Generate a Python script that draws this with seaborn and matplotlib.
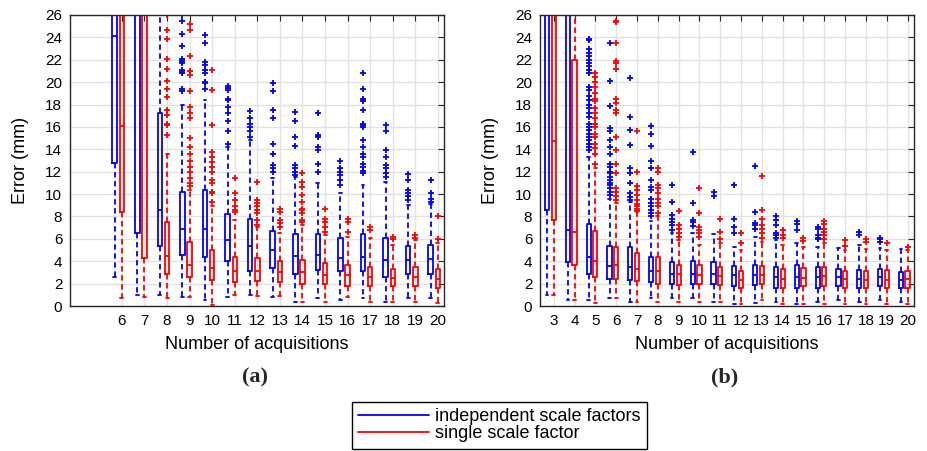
import matplotlib
matplotlib.use("Agg")
import matplotlib.pyplot as plt
from matplotlib.lines import Line2D
import seaborn as sns

# ---------------- data ----------------
# Panel (a)
a_x = [6, 7, 8, 9, 10, 11, 12, 13, 14, 15, 16, 17, 18, 19, 20]

a_ind_whislo = [2.6, 1.0, 1.0, 0.8, 0.5, 0.8, 1.0, 0.8, 0.4, 0.7, 0.5, 0.7, 0.4, 0.7, 0.7]
a_ind_q1 = [12.8, 6.5, 5.4, 4.6, 4.35, 4.0, 3.1, 3.4, 2.9, 3.2, 3.1, 3.1, 2.6, 2.9, 2.9]
a_ind_med = [24.1, 28.0, 8.6, 6.9, 6.9, 5.9, 5.4, 5.0, 4.5, 4.6, 4.3, 4.35, 4.1, 4.1, 4.2]
a_ind_q3 = [34.0, 40.0, 17.2, 10.2, 10.4, 8.2, 7.8, 6.7, 6.4, 6.4, 6.05, 6.4, 6.1, 5.4, 5.45]
a_ind_whishi = [60.0, 70.0, 27.5, 18.0, 18.4, 14.2, 14.8, 11.4, 11.5, 11.0, 10.1, 10.8, 11.1, 9.0, 9.1]
a_ind_fliers = [
    [], [], [],
    [26.0, 25.5, 24.3, 23.2, 22.1, 21.9, 21.7, 21.1, 20.9, 20.8, 19.4, 19.2],
    [24.2, 23.5, 21.8, 21.5, 21.1, 20.8, 20.0, 19.9, 19.4],
    [19.7, 19.5, 19.3, 18.5, 18.4, 17.8, 17.2, 16.5, 15.6, 14.5],
    [17.4, 16.8, 16.3, 16.0, 15.6, 15.1],
    [19.9, 19.2, 17.5, 16.8, 14.5, 13.6, 12.6, 12.3, 12.0],
    [17.3, 16.5, 15.1, 14.3, 12.6, 12.3, 12.0, 11.7],
    [17.2, 15.3, 15.1, 14.2, 13.9, 12.7, 12.0],
    [13.0, 12.3, 12.0, 11.7, 11.3, 10.8],
    [20.8, 19.4, 18.5, 18.3, 17.5, 16.3, 16.2, 16.0, 14.8, 14.2, 13.6, 13.3,
     12.7, 12.4, 12.1, 11.85],
    [16.2, 15.6, 13.9, 13.3, 12.6, 12.3, 11.85, 11.55],
    [11.8, 11.3, 10.4, 10.1, 9.8, 9.5],
    [11.3, 10.1, 9.6, 9.3],
]

a_sgl_whislo = [0.7, 0.8, 0.7, 0.8, 0.1, 1.0, 0.9, 0.9, 0.4, 0.4, 0.8, 0.4, 0.4, 0.4, 0.25]
a_sgl_q1 = [8.4, 4.3, 2.9, 2.55, 2.3, 2.15, 2.2, 2.15, 1.95, 1.95, 1.8, 1.8, 1.8, 1.8, 1.65]
a_sgl_med = [16.1, 28.0, 4.5, 3.7, 3.4, 3.15, 3.15, 3.05, 3.05, 2.8, 2.75, 2.6, 2.5, 2.6, 2.45]
a_sgl_q3 = [30.0, 40.0, 7.5, 5.75, 5.0, 4.4, 4.25, 4.0, 4.1, 3.8, 3.7, 3.5, 3.35, 3.5, 3.35]
a_sgl_whishi = [60.0, 70.0, 13.6, 10.4, 8.9, 7.7, 7.1, 6.5, 7.2, 6.3, 6.2, 6.05, 5.45, 5.9, 5.6]
a_sgl_fliers = [
    [], [],
    [26.0, 24.7, 23.9, 22.1, 21.2, 20.1, 19.4, 18.7, 17.5, 17.1, 16.3, 16.2, 15.3],
    [25.2, 24.7, 22.3, 21.0, 20.6, 19.2, 17.8, 17.2, 16.8, 15.0, 14.2, 13.6,
     13.0, 12.4, 12.0, 11.4, 11.0, 10.7],
    [21.1, 19.3, 16.2, 13.8, 13.3, 12.9, 12.4, 12.0, 11.3, 11.0, 10.2, 10.1, 9.3],
    [11.4, 10.1, 9.5, 8.9, 8.6, 8.4],
    [11.1, 9.5, 9.2, 8.9, 8.6, 8.3, 7.7, 7.2],
    [8.7, 8.4, 7.7, 7.4, 7.1],
    [11.85, 11.1, 10.6, 9.9, 9.3, 8.7, 8.6, 8.3, 7.7, 7.5],
    [8.7, 7.8, 7.5, 7.1, 6.6],
    [7.8, 7.5, 6.6],
    [7.1, 6.8],
    [6.2, 5.95],
    [6.3, 6.1],
    [8.0, 5.95],
]

# Panel (b)
b_x = [3, 4, 5, 6, 7, 8, 9, 10, 11, 12, 13, 14, 15, 16, 17, 18, 19, 20]

b_ind_whislo = [1.0, 0.5, 0.5, 0.7, 0.4, 0.7, 0.7, 0.7, 0.4, 0.2, 0.25, 0.4, 0.2, 0.4, 0.55, 0.4, 0.55, 0.4]
b_ind_q1 = [8.6, 3.9, 2.85, 2.45, 2.3, 2.1, 2.0, 1.95, 1.95, 1.8, 1.9, 1.65, 1.6, 1.65, 1.8, 1.65, 1.8, 1.6]
b_ind_med = [28.0, 6.8, 4.4, 3.6, 3.5, 3.15, 2.85, 2.85, 2.85, 2.75, 2.75, 2.6, 2.55, 2.55, 2.6, 2.4, 2.55, 2.3]
b_ind_q3 = [40.0, 30.0, 7.3, 5.35, 5.25, 4.35, 3.9, 4.05, 3.9, 3.55, 3.65, 3.5, 3.65, 3.5, 3.35, 3.2, 3.3, 3.05]
b_ind_whishi = [70.0, 60.0, 13.3, 9.6, 9.3, 7.6, 6.5, 6.5, 6.4, 5.3, 6.2, 5.9, 5.6, 5.3, 5.15, 5.45, 5.15, 5.05]
b_ind_fliers = [
    [], [],
    [23.9, 23.8, 23.0, 22.6, 22.3, 22.0, 21.7, 21.4, 21.1, 20.8, 19.6, 19.3,
     18.8, 18.4, 18.0, 17.7, 17.2, 16.9, 16.3, 16.0, 15.7, 15.4, 15.1, 14.8,
     14.5, 14.2, 13.9],
    [23.5, 20.1, 17.85, 15.9, 15.6, 14.8, 14.2, 13.6, 12.7, 12.4, 12.0, 11.85,
     11.55, 11.25, 10.95, 10.8, 10.5, 10.2, 9.9],
    [20.4, 16.9, 15.7, 14.4, 12.3, 11.85, 11.0, 10.1, 9.7, 9.5],
    [16.1, 15.4, 14.3, 13.0, 12.3, 11.25, 10.65, 10.35, 9.6, 9.2, 8.9, 8.6, 8.3, 8.0],
    [10.8, 9.3, 8.1, 7.8, 7.5, 7.2, 6.8],
    [13.8, 9.2, 7.7, 7.5, 7.15],
    [10.2, 9.8],
    [10.8, 7.8, 7.1, 6.5],
    [12.5, 8.4, 7.4, 7.2, 6.85],
    [8.0, 7.7, 7.2, 6.5, 6.35, 6.1],
    [7.6, 7.3, 6.8],
    [7.1, 6.85, 6.35, 6.1, 5.95],
    [],
    [6.6, 6.35],
    [6.1, 5.95, 5.75],
    [],
]

b_sgl_whislo = [1.0, 0.5, 0.25, 0.7, 0.4, 0.4, 0.4, 0.4, 0.4, 0.2, 0.5, 0.2, 0.2, 0.2, 0.2, 0.2, 0.2, 0.2]
b_sgl_q1 = [7.7, 3.65, 2.6, 2.45, 2.2, 2.0, 1.9, 1.95, 1.9, 1.65, 1.95, 1.65, 1.75, 1.8, 1.65, 1.6, 1.6, 1.65]
b_sgl_med = [14.7, 6.65, 4.0, 3.65, 3.35, 3.15, 2.85, 2.8, 2.7, 2.3, 2.75, 2.45, 2.5, 2.7, 2.4, 2.3, 2.3, 2.4]
b_sgl_q3 = [35.0, 22.0, 6.7, 5.25, 4.75, 4.4, 3.7, 3.65, 3.5, 3.15, 3.55, 3.35, 3.4, 3.5, 3.15, 3.15, 3.2, 3.15]
b_sgl_whishi = [70.0, 40.0, 12.3, 9.2, 8.4, 8.0, 5.9, 5.45, 5.6, 5.0, 5.75, 5.45, 5.3, 5.6, 5.0, 5.05, 5.0, 5.0]
b_sgl_fliers = [
    [], [],
    [20.85, 20.5, 20.0, 19.6, 19.0, 18.5, 18.3, 17.7, 17.2, 16.8, 16.3, 16.0,
     15.4, 15.1, 14.5, 14.1, 13.6, 12.7],
    [25.5, 25.4, 23.5, 21.9, 21.7, 21.2, 18.5, 18.1, 17.5, 17.2, 15.1, 13.9,
     12.7, 11.85, 10.5, 10.2, 9.8, 9.5],
    [15.6, 12.0, 10.7, 10.4, 9.9, 9.5, 9.1, 8.9, 8.7, 8.5],
    [12.3, 12.0, 10.8, 10.5, 10.1, 9.6, 9.2, 8.9, 8.3],
    [8.5, 7.2, 6.9, 6.5, 6.2],
    [10.5, 8.3, 7.1, 6.8, 6.5, 6.2],
    [7.8, 6.6, 6.0],
    [6.5, 5.65],
    [11.6, 8.6, 7.8, 7.2, 6.9, 6.5, 6.1],
    [6.8, 6.35, 6.05],
    [6.05, 5.8],
    [7.6, 7.3, 6.9, 6.6, 6.3, 6.0],
    [5.9, 5.35],
    [5.95, 5.75],
    [5.65],
    [5.25],
]

y_ticks = list(range(0, 27, 2))
series_labels = ["independent scale factors", "single scale factor"]
series_colors = ["#0000ff", "#ff0000"]
panel_tags = ["(a)", "(b)"]
x_label = "Number of acquisitions"
y_label = "Error (mm)"

# ---------------- style ----------------
sns.set_theme(style="whitegrid")
plt.rcParams["font.family"] = ["Liberation Sans", "DejaVu Sans"]
plt.rcParams["axes.edgecolor"] = "#262626"

W, H = 928, 451
fig = plt.figure(figsize=(W / 100, H / 100), dpi=100)
axA = fig.add_axes([70 / W, 145 / H, 374 / W, 291 / H])
axB = fig.add_axes([540 / W, 145 / H, 374 / W, 291 / H])


def make_stats(whislo, q1, med, q3, whishi, fliers):
    return [dict(whislo=a, q1=b, med=c, q3=d, whishi=e, fliers=f)
            for a, b, c, d, e, f in zip(whislo, q1, med, q3, whishi, fliers)]


def draw(ax, xs, ind, sgl, xlim, tag):
    offset = 0.32
    for stats, color, shift in [(ind, series_colors[0], -offset),
                                (sgl, series_colors[1], 0.0)]:
        ax.bxp(stats, positions=[x + shift for x in xs], widths=0.2,
               capwidths=0.13, showfliers=True, manage_ticks=False,
               boxprops=dict(color=color, lw=1.3),
               medianprops=dict(color=color, lw=1.3),
               whiskerprops=dict(color=color, lw=1.3, linestyle=(0, (3, 2))),
               capprops=dict(color=color, lw=1.3),
               flierprops=dict(marker="+", markeredgecolor=color,
                               markersize=5, markeredgewidth=1.3,
                               linestyle="none"))
    ax.set_xlim(*xlim)
    ax.set_ylim(0, 26)
    ax.set_xticks(xs)
    ax.set_xticklabels([str(x) for x in xs])
    ax.set_yticks(y_ticks)
    ax.grid(True, color="#e2e2e2", lw=1.0)
    ax.set_axisbelow(True)
    ax.set_facecolor("white")
    for s in ax.spines.values():
        s.set_visible(True)
        s.set_color("#262626")
        s.set_linewidth(1.0)
    ax.tick_params(direction="in", top=True, right=True, length=4,
                   width=0.8, color="#262626", labelsize=11, pad=5.5,
                   labelcolor="black")
    ax.set_xlabel(x_label, fontsize=13, labelpad=6, color="black")
    ax.set_ylabel(y_label, fontsize=13, labelpad=11.5, color="black")
    cx = (ax.get_position().x0 + ax.get_position().x1) / 2
    fig.text(cx - 2 / W, 1 - 377 / H, tag, ha="center", va="center",
             fontsize=16, fontweight="bold",
             family=["Liberation Serif", "DejaVu Serif"])


draw(axA, a_x,
     make_stats(a_ind_whislo, a_ind_q1, a_ind_med, a_ind_q3, a_ind_whishi, a_ind_fliers),
     make_stats(a_sgl_whislo, a_sgl_q1, a_sgl_med, a_sgl_q3, a_sgl_whishi, a_sgl_fliers),
     (3.7, 20.27), panel_tags[0])
draw(axB, b_x,
     make_stats(b_ind_whislo, b_ind_q1, b_ind_med, b_ind_q3, b_ind_whishi, b_ind_fliers),
     make_stats(b_sgl_whislo, b_sgl_q1, b_sgl_med, b_sgl_q3, b_sgl_whishi, b_sgl_fliers),
     (2.34, 20.31), panel_tags[1])

handles = [Line2D([], [], color=c, lw=1.3) for c in series_colors]
leg = fig.legend(handles, series_labels, loc="upper left",
                 bbox_to_anchor=(352 / W, 1 - 402 / H),
                 bbox_transform=fig.transFigure, borderaxespad=0,
                 frameon=True, fancybox=False, edgecolor="black",
                 framealpha=1, fontsize=13, handlelength=3.9,
                 handletextpad=0.35, labelspacing=0.0, borderpad=0.35)
leg.get_frame().set_linewidth(1.0)
for t in leg.get_texts():
    t.set_color("black")

fig.savefig("out.png", dpi=100)
